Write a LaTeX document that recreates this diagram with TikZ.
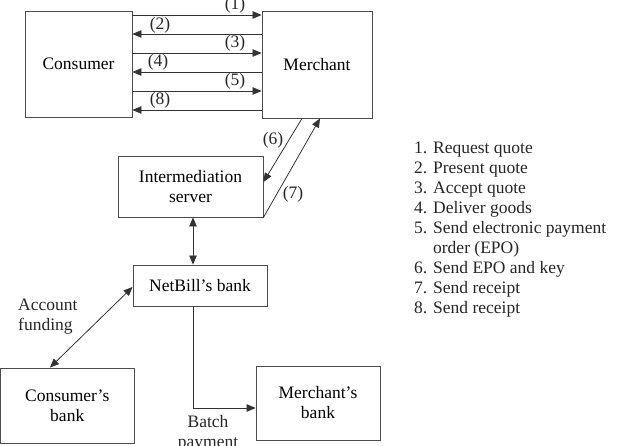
\documentclass[tikz,border=0pt]{standalone}
\usepackage{fontspec}
\setmainfont{Liberation Serif}
\usetikzlibrary{arrows.meta}
\newcommand\dfont{\fontsize{17.5}{20}\selectfont}
\begin{document}
\begin{tikzpicture}[x=1pt,y=-1pt,
  box/.style={draw=black!70, line width=0.9pt, align=center, inner sep=0pt, font=\dfont},
  arr/.style={draw=black!80, line width=0.8pt, -{Triangle[length=9pt,width=7.5pt]}},
  darr/.style={draw=black!80, line width=0.8pt, {Triangle[length=9pt,width=7.5pt]}-{Triangle[length=9pt,width=7.5pt]}},
  lbl/.style={inner sep=0pt, font=\dfont, text=black!85}]
\useasboundingbox (0,0) rectangle (618,446);

% boxes
\node[box, minimum width=107pt, minimum height=106pt] (cons) at (78.5,64) {Consumer};
\node[box, minimum width=110pt, minimum height=107pt] (merch) at (317,64.5) {Merchant};
\node[box, minimum width=145pt, minimum height=61pt] (inter) at (190.5,186.5) {Intermediation\\server};
\node[box, minimum width=134pt, minimum height=41pt] (nbb) at (200,285.5) {NetBill’s bank};
\node[box, minimum width=133.5pt, minimum height=75pt] (cb) at (67.25,405.5) {Consumer’s\\bank};
\node[box, minimum width=124pt, minimum height=74pt] (mb) at (318,403) {Merchant’s\\bank};

% y levels of message arrows
\coordinate (l1) at (0,15);
\coordinate (l2) at (0,34);
\coordinate (l3) at (0,53);
\coordinate (l4) at (0,72);
\coordinate (l5) at (0,91);
\coordinate (l8) at (0,110);
\draw[arr] (cons.east |- l1) -- (merch.west |- l1);
\draw[arr] (merch.west |- l2) -- (cons.east |- l2);
\draw[arr] (cons.east |- l3) -- (merch.west |- l3);
\draw[arr] (merch.west |- l4) -- (cons.east |- l4);
\draw[arr] (cons.east |- l5) -- (merch.west |- l5);
\draw[arr] (merch.west |- l8) -- (cons.east |- l8);

\node[lbl] (t1) at (235,5) {(1)};
\node[lbl] (t2) at (160,25) {(2)};
\node[lbl] (t3) at (235,43) {(3)};
\node[lbl] (t4) at (158,62) {(4)};
\node[lbl] (t5) at (235,81) {(5)};
\node[lbl] (t8) at (160,100) {(8)};

% merchant <-> intermediation
\coordinate (x6) at (302,0);
\coordinate (y6) at (0,182);
\coordinate (x7) at (320,0);
\draw[arr] (merch.south -| x6) -- (inter.east |- y6);
\draw[arr] (inter.south east) -- (merch.south -| x7);
\node[lbl] (t6) at (273,140) {(6)};
\node[lbl] (t7) at (293,194) {(7)};

% intermediation <-> NetBill's bank
\coordinate (vx) at (193,0);
\draw[darr] (inter.south -| vx) -- (nbb.north -| vx);

% account funding
\coordinate (ay) at (0,287);
\coordinate (ax) at (50,0);
\draw[darr] (nbb.west |- ay) -- (cb.north -| ax);
\node[lbl, anchor=north west, align=left] (af) at (18,299.2) {Account\\funding};

% batch payment
\coordinate (by) at (0,408);
\draw[arr] (nbb.south -| vx) |- (mb.west |- by);
\node[lbl, anchor=north, align=center] (bp) at (208,415.4) {Batch\\payment};

% legend
\node[lbl, anchor=north west, align=left] (leg) at (414,142.2) {1. Request quote\\2. Present quote\\3. Accept quote\\4. Deliver goods\\5. Send electronic payment\\\hphantom{5. }order (EPO)\\6. Send EPO and key\\7. Send receipt\\8. Send receipt};
\end{tikzpicture}
\end{document}
